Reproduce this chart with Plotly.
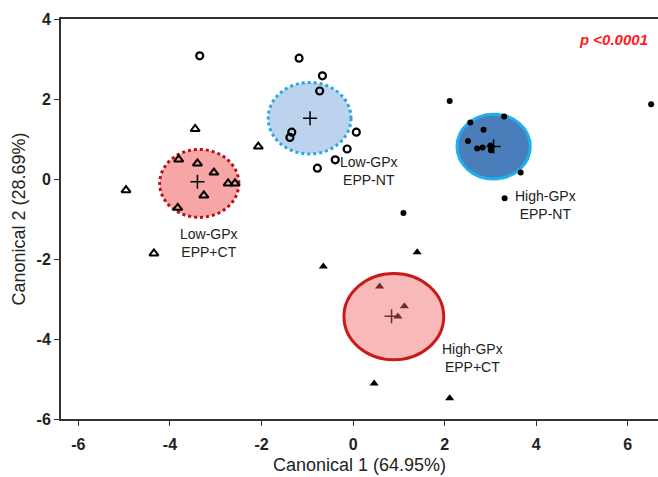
import plotly.graph_objects as go

# ---- data ----
low_ct_x = [-3.45, -2.07, -3.81, -3.40, -3.04, -2.73, -2.58, -3.26, -3.83, -4.96, -4.35]
low_ct_y = [1.25, 0.81, 0.49, 0.39, 0.16, -0.11, -0.11, -0.41, -0.72, -0.28, -1.86]

low_nt_x = [-3.35, -1.18, -0.67, -0.73, -1.34, -1.38, 0.07, -0.13, -0.39, -0.78]
low_nt_y = [3.08, 3.02, 2.58, 2.20, 1.17, 1.04, 1.17, 0.75, 0.48, 0.27]

high_nt_x = [2.11, 6.51, 2.56, 3.30, 2.85, 2.51, 2.71, 2.83, 3.00, 3.01, 3.66, 3.31, 1.10]
high_nt_y = [1.95, 1.87, 1.41, 1.56, 1.23, 0.95, 0.76, 0.79, 0.84, 0.72, 0.16, -0.48, -0.85]

high_ct_x = [-0.65, 1.40, 0.58, 1.12, 0.98, 0.46, 2.11]
high_ct_y = [-2.19, -1.83, -2.69, -3.18, -3.44, -5.11, -5.48]

groups = ["Low-GPx<br>EPP+CT", "Low-GPx<br>EPP-NT", "High-GPx<br>EPP-NT", "High-GPx<br>EPP+CT"]
centroid_x = [-3.40, -0.94, 3.07, 0.84]
centroid_y = [-0.07, 1.52, 0.81, -3.43]
ellipse_cx = [-3.36, -0.95, 3.07, 0.89]
ellipse_cy = [-0.11, 1.52, 0.81, -3.44]
ellipse_rx = [0.865, 0.905, 0.80, 1.09]
ellipse_ry = [0.85, 0.895, 0.81, 1.08]
label_x = [-3.15, 0.35, 4.2, 2.6]
label_y = [-1.6, 0.2, -0.65, -4.47]

x_ticks = [-6, -4, -2, 0, 2, 4, 6]
y_ticks = [-6, -4, -2, 0, 2, 4]

fig = go.Figure()

# ellipses
ell_fill = ["#f7a6a6", "#bcd3ed", "#4a7ebb", "rgba(240,100,100,0.45)"]
ell_line = ["#b5121b", "#29a8e0", "#1fb0ee", "#c81a1a"]
ell_dash = ["dot", "dot", "solid", "solid"]
ell_layer = ["below", "below", "below", "above"]
for i in range(4):
    fig.add_shape(type="circle", xref="x", yref="y",
                  x0=ellipse_cx[i] - ellipse_rx[i], x1=ellipse_cx[i] + ellipse_rx[i],
                  y0=ellipse_cy[i] - ellipse_ry[i], y1=ellipse_cy[i] + ellipse_ry[i],
                  fillcolor=ell_fill[i], line=dict(color=ell_line[i], width=3, dash=ell_dash[i]),
                  layer=ell_layer[i])

fig.add_trace(go.Scatter(x=low_ct_x, y=low_ct_y, mode="markers",
                         marker=dict(symbol="triangle-up-open", size=8, color="black", line=dict(width=2))))
fig.add_trace(go.Scatter(x=low_nt_x, y=low_nt_y, mode="markers",
                         marker=dict(symbol="circle-open", size=7, color="black", line=dict(width=2.2))))
fig.add_trace(go.Scatter(x=high_nt_x, y=high_nt_y, mode="markers",
                         marker=dict(symbol="circle", size=6, color="black")))
fig.add_trace(go.Scatter(x=high_ct_x, y=high_ct_y, mode="markers",
                         marker=dict(symbol="triangle-up", size=8, color="black")))
fig.add_trace(go.Scatter(x=centroid_x, y=centroid_y, mode="markers",
                         marker=dict(symbol="cross-thin", size=10, color="black",
                                     line=dict(width=1.5, color="black"))))

for i in range(4):
    fig.add_annotation(x=label_x[i], y=label_y[i], text=groups[i], showarrow=False,
                       font=dict(family="Liberation Sans, Arial", size=14, color="#222"),
                       align="center")

fig.add_annotation(xref="paper", yref="paper", x=1.0, y=1.0, xanchor="right", yanchor="top",
                   xshift=-8, yshift=-10,
                   text="<b><i>p <0.0001</i></b>", showarrow=False,
                   font=dict(family="Liberation Sans, Arial", size=15, color="#ff1a1a"))

tickfont = dict(family="Liberation Sans, Arial", size=16, color="#222")
titlefont = dict(family="Liberation Sans, Arial", size=18, color="#222")
fig.update_layout(
    width=658, height=477,
    margin=dict(l=61, r=0, t=19, b=58, autoexpand=False),
    paper_bgcolor="white", plot_bgcolor="white",
    showlegend=False,
    xaxis=dict(range=[-6.38, 6.66], tickvals=x_ticks, ticktext=[f"<b>{v}</b>" for v in x_ticks],
               showgrid=False, zeroline=False, showline=True, linecolor="#333", linewidth=2,
               mirror=True, ticks="outside", ticklen=5, tickcolor="#333",
               tickfont=tickfont, automargin=False, ticklabelstandoff=5,
               title=dict(text="Canonical 1 (64.95%)", standoff=6, font=titlefont)),
    yaxis=dict(range=[-6, 4], tickvals=y_ticks, ticktext=[f"<b>{v}</b>" for v in y_ticks],
               showgrid=False, zeroline=False, showline=True, linecolor="#333", linewidth=2,
               ticks="outside", ticklen=5, tickcolor="#333",
               tickfont=tickfont, automargin=False,
               title=dict(text="Canonical 2 (28.69%)", standoff=6, font=titlefont)),
)

fig.write_html("out.html", config={"displayModeBar": False},
               post_script="document.body.style.margin='0';document.body.style.overflow='hidden';")
